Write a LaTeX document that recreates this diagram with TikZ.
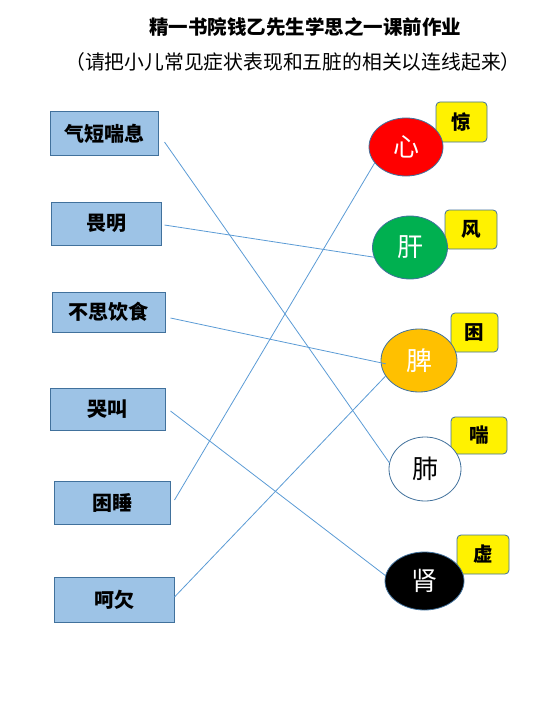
\documentclass[tikz,border=0pt]{standalone}
\usepackage{fontspec}
\usetikzlibrary{shapes.geometric}
\setmainfont{Noto Sans CJK SC}
\definecolor{boxfill}{HTML}{9DC3E6}
\definecolor{boxline}{HTML}{41719C}
\definecolor{linkblue}{HTML}{5B9BD5}
\definecolor{organgreen}{HTML}{00B050}
\definecolor{organorange}{HTML}{FFC000}

\begin{document}
\begin{tikzpicture}[x=1pt,y=-1pt,
  symptom/.style={draw=boxline,fill=boxfill,line width=1pt,inner sep=0pt,font=\fontsize{20}{20}\selectfont\bfseries},
  organ/.style={ellipse,draw=boxline,line width=0.8pt,inner sep=0pt,font=\fontsize{26}{26}\selectfont},
  sign/.style={draw=boxline,fill=yellow,rounded corners=4pt,line width=0.8pt,inner sep=0pt,font=\fontsize{19.5}{19.5}\selectfont\bfseries},
  link/.style={draw=linkblue,line width=0.8pt}]
\useasboundingbox (0,0) rectangle (552,706);
\node (title) at (305,27) {\fontsize{19.5}{20}\selectfont\bfseries 精一书院钱乙先生学思之一课前作业};
\node (sub) at (293,62) {\fontsize{19.8}{20}\selectfont （请把小儿常见症状表现和五脏的相关以连线起来）};
% symptoms
\node[symptom,minimum width=108pt,minimum height=43pt] (qd) at (104,133.5) {气短喘息};
\node[symptom,minimum width=110pt,minimum height=43pt] (wm) at (106,223.5) {畏明};
\node[symptom,minimum width=113pt,minimum height=40pt] (bs) at (108.5,312) {不思饮食};
\node[symptom,minimum width=115pt,minimum height=42pt] (kj) at (107.5,409) {哭叫};
\node[symptom,minimum width=116pt,minimum height=43pt] (ks) at (112,502.5) {困睡};
\node[symptom,minimum width=120pt,minimum height=45pt] (hq) at (114,600) {呵欠};
% signs
\node[sign,minimum width=51pt,minimum height=40pt] (jing) at (461.5,122) {惊};
\node[sign,minimum width=52pt,minimum height=39pt] (feng) at (471,229.5) {风};
\node[sign,minimum width=47pt,minimum height=39pt] (kun) at (474.5,332.5) {困};
\node[sign,minimum width=56pt,minimum height=37pt] (chuan) at (479,435.5) {喘};
\node[sign,minimum width=52pt,minimum height=39pt] (xu) at (483,554.5) {虚};
% organs
\node[organ,fill=red,text=white,minimum width=74pt,minimum height=58pt] (xin) at (406,147) {心};
\node[organ,fill=organgreen,text=white,minimum width=75pt,minimum height=63pt] (gan) at (410,247.5) {肝};
\node[organ,fill=organorange,text=white,minimum width=76pt,minimum height=63pt] (pi) at (419,360.5) {脾};
\node[organ,fill=white,minimum width=72pt,minimum height=64pt] (fei) at (425,469) {肺};
\node[organ,fill=black,text=white,minimum width=79pt,minimum height=58pt] (shen) at (424.5,581) {肾};
% links
\draw[link] ([xshift=6pt,yshift=-8.5pt]qd.east) -- (fei.170);
\draw[link] ([xshift=3pt,yshift=-1.5pt]wm.east) -- (gan.195);
\draw[link] ([xshift=5pt,yshift=-6pt]bs.east) -- ([xshift=5pt]pi.185);
\draw[link] ([xshift=5pt,yshift=-2pt]kj.east) -- (shen.172);
\draw[link] ([xshift=4pt,yshift=2.5pt]ks.east) -- (xin.207);
\draw[link] ([yshift=3pt]hq.east) -- (pi.205);
\end{tikzpicture}
\end{document}
